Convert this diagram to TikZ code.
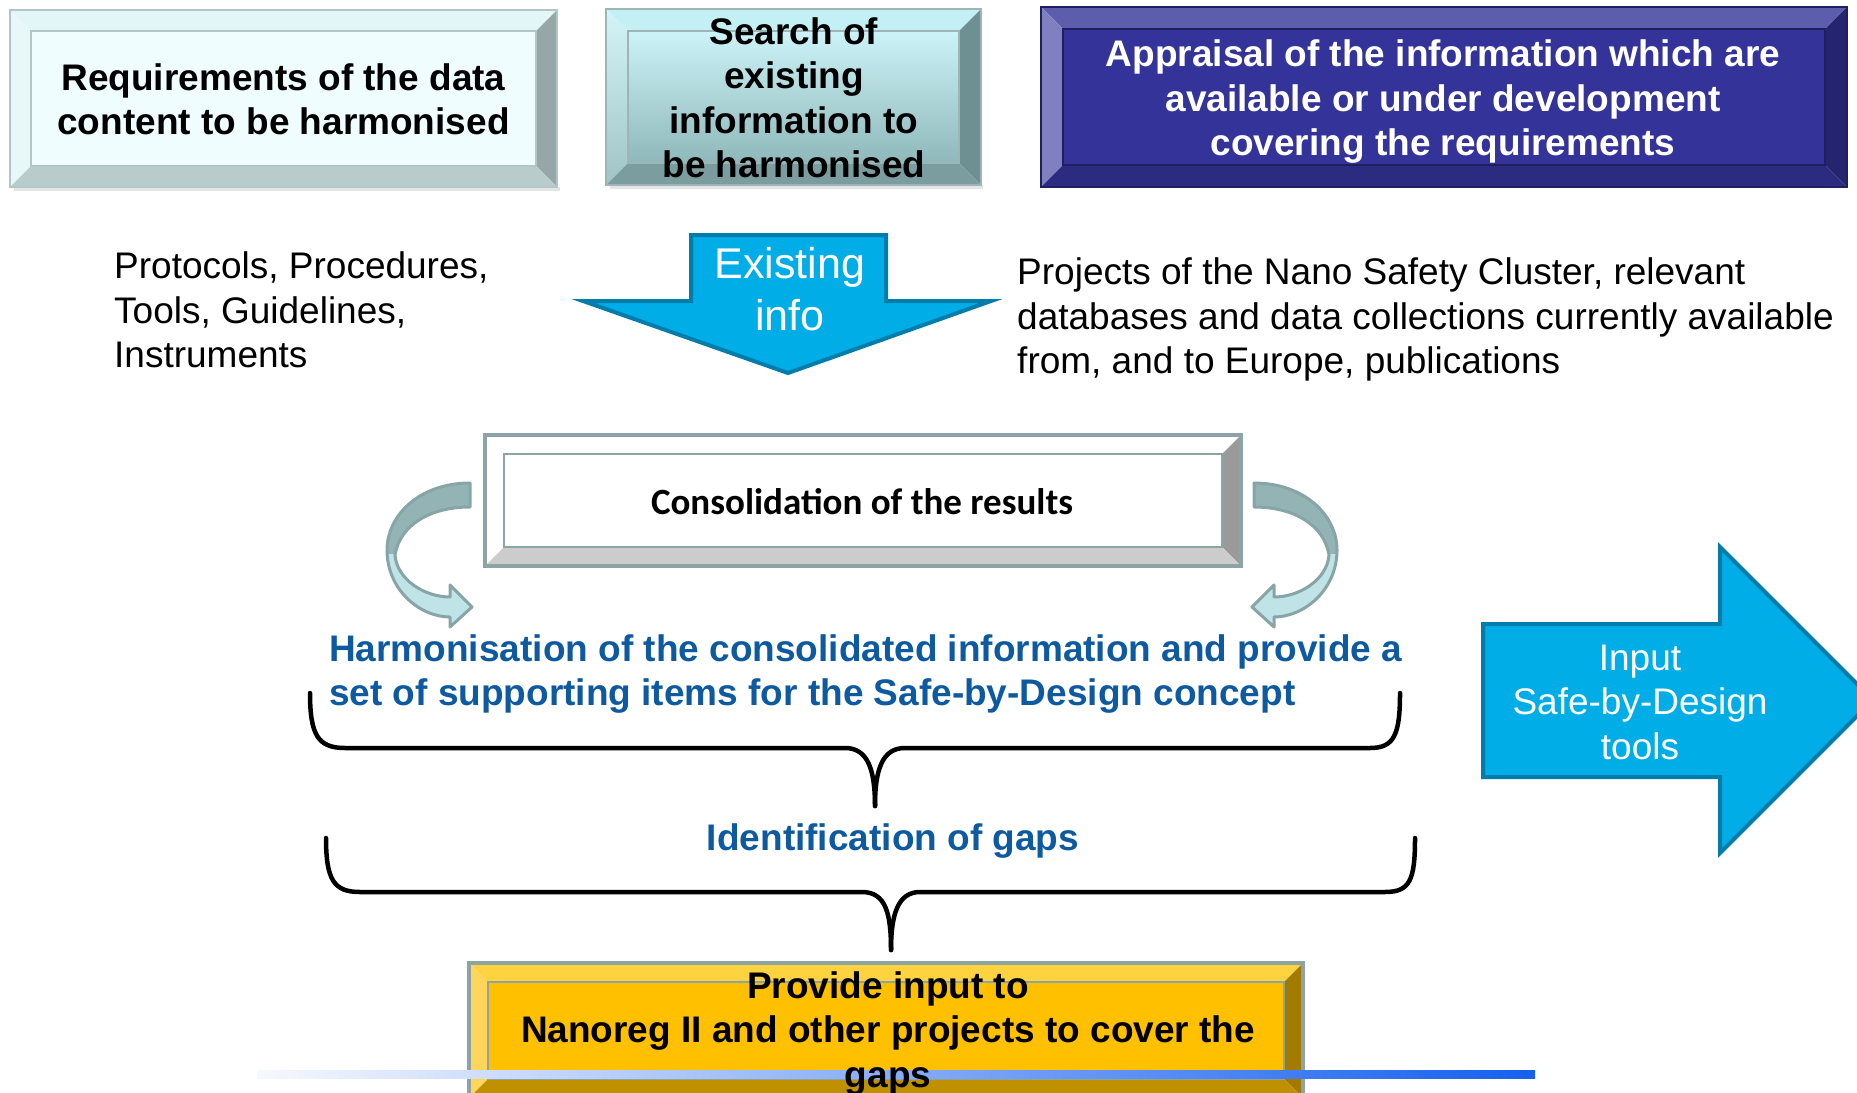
\documentclass[tikz,border=0pt]{standalone}
\usepackage{fontspec}
\setmainfont{Liberation Sans}
\newfontfamily\calibfont{Carlito}

% colours
\definecolor{rimgray}{HTML}{8CA4A5}
\definecolor{arrowcyan}{HTML}{00ADE6}
\definecolor{arrowedge}{HTML}{007DAA}
\definecolor{harmblue}{HTML}{0E5AA0}
\definecolor{lineblue}{HTML}{1660EE}
\definecolor{bendtop}{HTML}{94B3B4}
\definecolor{bendbot}{HTML}{BFE3E6}
\definecolor{bendedge}{HTML}{87A5A7}

\tikzset{
  rq face/.style={fill={rgb,255:red,239;green,253;blue,254}},
  rq top/.style={fill={rgb,255:red,226;green,245;blue,247}},
  rq left/.style={fill={rgb,255:red,232;green,248;blue,249}},
  rq right/.style={fill={rgb,255:red,151;green,166;blue,166}},
  rq bot/.style={fill={rgb,255:red,184;green,204;blue,204}},
  rq rim/.style={draw={rgb,255:red,179;green,198;blue,198},line width=1.5pt},
  srch face/.style={top color={rgb,255:red,204;green,243;blue,247},bottom color={rgb,255:red,143;green,184;blue,186}},
  srch top/.style={fill={rgb,255:red,195;green,240;blue,244}},
  srch left/.style={top color={rgb,255:red,211;green,245;blue,247},bottom color={rgb,255:red,160;green,196;blue,198}},
  srch right/.style={fill={rgb,255:red,111;green,144;blue,146}},
  srch bot/.style={fill={rgb,255:red,123;green,157;blue,159}},
  srch rim/.style={draw={rgb,255:red,157;green,181;blue,182},line width=1.5pt},
  appr face/.style={fill={rgb,255:red,51;green,51;blue,153}},
  appr top/.style={fill={rgb,255:red,93;green,93;blue,173}},
  appr left/.style={fill={rgb,255:red,128;green,128;blue,192}},
  appr right/.style={fill={rgb,255:red,37;green,37;blue,111}},
  appr bot/.style={fill={rgb,255:red,43;green,43;blue,128}},
  appr rim/.style={draw={rgb,255:red,30;green,30;blue,96},line width=1.5pt},
  cons face/.style={fill=white},
  cons top/.style={fill=white},
  cons left/.style={fill=white},
  cons right/.style={fill={rgb,255:red,154;green,154;blue,154}},
  cons bot/.style={fill={rgb,255:red,204;green,204;blue,204}},
  cons rim/.style={draw=rimgray,line width=4pt},
  prov face/.style={fill={rgb,255:red,255;green,192;blue,0}},
  prov top/.style={fill={rgb,255:red,255;green,210;blue,63}},
  prov left/.style={fill={rgb,255:red,255;green,213;blue,90}},
  prov right/.style={fill={rgb,255:red,163;green,122;blue,0}},
  prov bot/.style={fill={rgb,255:red,191;green,144;blue,0}},
  prov rim/.style={draw=rimgray,line width=4pt},
  boxtxt/.style={font=\fontsize{37}{44.5}\selectfont\bfseries,align=center,inner sep=0pt},
  plaintxt/.style={font=\fontsize{37}{44.5}\selectfont,align=left,inner sep=0pt},
  blockarrow/.style={fill=arrowcyan,draw=arrowedge,line width=4pt,line join=miter},
  brace/.style={draw=black,line width=4.5pt,line cap=round},
  bendarrow/.pic={
    \def\bendpath{(0,0) .. controls (-50,0) and (-83,32) .. (-83,67)
      .. controls (-83,107) and (-50,134) .. (-20,134) -- (-20,144) -- (2,124)
      -- (-20,102) -- (-20,114) .. controls (-45,114) and (-73,97) .. (-75,72)
      .. controls (-70,42) and (-40,24) .. (0,24) -- cycle}
    \fill[bendbot] \bendpath;
    \begin{scope}
      \clip (-95,-8) rectangle (8,70);
      \fill[bendtop] \bendpath;
    \end{scope}
    \draw[bendedge,line width=3pt,line join=round] \bendpath;
  }
}

% x1 y1 x2 y2 bevel prefix
\newcommand\bevelbox[6]{%
  \path[#6 face] (#1+#5,#2+#5) rectangle (#3-#5,#4-#5);
  \path[#6 top] (#1,#2) -- (#3,#2) -- (#3-#5,#2+#5) -- (#1+#5,#2+#5) -- cycle;
  \path[#6 left] (#1,#2) -- (#1+#5,#2+#5) -- (#1+#5,#4-#5) -- (#1,#4) -- cycle;
  \path[#6 right] (#3,#2) -- (#3,#4) -- (#3-#5,#4-#5) -- (#3-#5,#2+#5) -- cycle;
  \path[#6 bot] (#1,#4) -- (#1+#5,#4-#5) -- (#3-#5,#4-#5) -- (#3,#4) -- cycle;
  \draw[#6 rim] (#1,#2) rectangle (#3,#4);
  \draw[#6 rim,line width=1.2pt] (#1+#5,#2+#5) rectangle (#3-#5,#4-#5);
}

\begin{document}
\begin{tikzpicture}[x=1pt,y=-1pt]
  \useasboundingbox (0,0) rectangle (1857,1092);
  \clip (0,0) rectangle (1857,1092);

  % top row
  \fill[black!10] (14,187) rectangle (560,191);
  \fill[black!10] (610,185) rectangle (983,189);
  \bevelbox{10}{10}{557}{187}{21}{rq}
  \bevelbox{606}{9}{981}{185}{22}{srch}
  \bevelbox{1041}{7}{1847}{187}{22}{appr}
  \node[boxtxt] (req) at (283.5,99.5) {Requirements of the data\\content to be harmonised};
  \node[boxtxt] (srch) at (794,98) {Search of\\existing\\information to\\be harmonised};
  \node[boxtxt,text=white] (appr) at (1443,102) {Appraisal of the information which are\\available or under development\\covering the requirements};

  % existing info
  \path[blockarrow] (691,235) -- (886,235) -- (886,301) -- (991,301) -- (788,373)
    -- (583,301) -- (691,301) -- cycle;
  \node[plaintxt,align=center,text=white,font=\fontsize{43}{52}\selectfont] (exist) at (790,289) {Existing\\info};
  \node[plaintxt,anchor=west] (proto) at (114,310) {Protocols, Procedures,\\Tools, Guidelines,\\Instruments};
  \node[plaintxt,anchor=west] (nsc) at (1017,319.5) {Projects of the Nano Safety Cluster, relevant\\databases and data collections currently available\\from, and to Europe, publications};

  % consolidation
  \bevelbox{485}{435}{1241}{566}{19}{cons}
  \node[boxtxt,font=\fontsize{37}{44.5}\selectfont\calibfont\bfseries] (cons) at (862,502) {Consolidation of the results};
  \pic at (470,483) {bendarrow};
  \pic[xscale=-1] at (1254,483) {bendarrow};

  % harmonisation and gaps
  \node[boxtxt,align=left,anchor=west,text=harmblue] (harm) at (329,674) {Harmonisation of the consolidated information and provide a\\set of supporting items for the Safe-by-Design concept};
  \path[brace] (310,693) .. controls (310,735) and (318,748) .. (345,748) -- (845,748)
    .. controls (868,748) and (875,770) .. (875,806);
  \path[brace] (875,806) .. controls (875,770) and (882,748) .. (905,748) -- (1370,748)
    .. controls (1394,748) and (1400,735) .. (1400,693);
  \node[boxtxt,text=harmblue] (gaps) at (893,841) {Identification of gaps};
  \path[brace] (326,838) .. controls (326,880) and (334,892) .. (360,892) -- (862,892)
    .. controls (886,892) and (891,914) .. (891,950);
  \path[brace] (891,950) .. controls (891,914) and (898,892) .. (920,892) -- (1385,892)
    .. controls (1410,892) and (1415,880) .. (1415,838);

  % input arrow
  \path[blockarrow] (1483,624) -- (1720,624) -- (1720,547) -- (1873,700) -- (1720,853)
    -- (1720,777) -- (1483,777) -- cycle;
  \node[plaintxt,align=center,text=white] (sbd) at (1640,702) {Input\\Safe-by-Design\\tools};

  % provide input
  \bevelbox{469}{963}{1303}{1098}{19}{prov}
  \shade[left color=lineblue!4,middle color=lineblue!45,right color=lineblue]
    (257,1070) rectangle (1535,1078);
  \node[boxtxt] (prov) at (888,1033.5) {Provide input to\\Nanoreg II and other projects to cover the\\gaps};
\end{tikzpicture}
\end{document}
